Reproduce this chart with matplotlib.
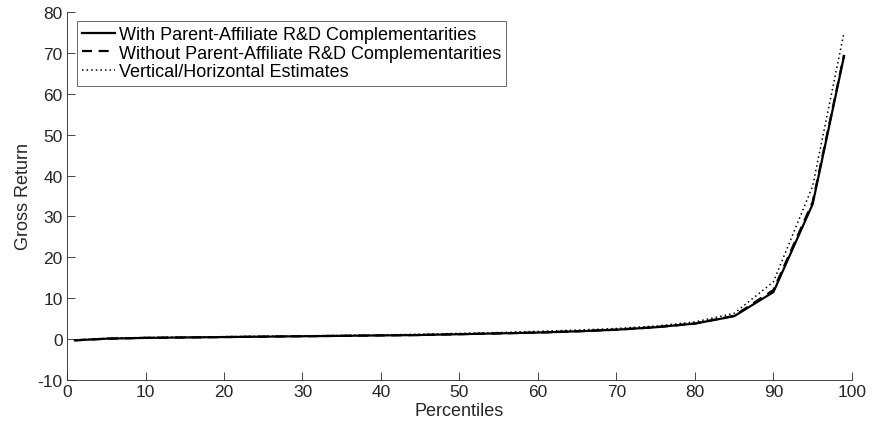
import matplotlib.pyplot as plt

# percentiles and gross returns for each specification
percentiles = [1, 5, 10, 15, 20, 25, 30, 35, 40, 45, 50, 55, 60, 65, 70, 75, 80, 85, 90, 95, 99]
with_compl = [-0.3, 0.1, 0.3, 0.4, 0.5, 0.6, 0.7, 0.8, 0.9, 1.0, 1.2, 1.4, 1.6, 1.9, 2.3, 2.9, 3.8, 5.6, 11.5, 33.0, 69.2]
without_compl = [-0.3, 0.1, 0.3, 0.4, 0.5, 0.6, 0.7, 0.8, 0.9, 1.0, 1.2, 1.4, 1.6, 1.9, 2.3, 2.9, 3.8, 5.7, 12.0, 33.5, 69.5]
vert_horiz = [-0.2, 0.2, 0.4, 0.5, 0.6, 0.7, 0.8, 0.9, 1.0, 1.2, 1.4, 1.6, 1.9, 2.2, 2.6, 3.2, 4.2, 6.3, 14.0, 37.4, 75.0]

plt.rcParams['font.family'] = ['Liberation Sans', 'DejaVu Sans']
plt.rcParams['axes.unicode_minus'] = False

fig = plt.figure(figsize=(8.74, 4.31), dpi=100)
ax = fig.add_axes([0.0767, 0.116, 0.898, 0.854])

ax.plot(percentiles, with_compl, color='black', linestyle='-', linewidth=1.6,
        label='With Parent-Affiliate R&D Complementarities')
ax.plot(percentiles, without_compl, color='black', linestyle=(0, (4.5, 3)), linewidth=1.6,
        label='Without Parent-Affiliate R&D Complementarities')
ax.plot(percentiles, vert_horiz, color='black', linestyle=(0, (1, 2)), linewidth=1.1,
        label='Vertical/Horizontal Estimates')

ax.set_xlim(0, 100)
ax.set_ylim(-10, 80)
ax.set_xticks(range(0, 101, 10))
ax.set_yticks(range(-10, 81, 10))
ax.set_xlabel('Percentiles', fontsize=13, color='#262626', labelpad=2)
ax.set_ylabel('Gross Return', fontsize=13, color='#262626', labelpad=4)

for side in ['top', 'right']:
    ax.spines[side].set_visible(False)
for side in ['left', 'bottom']:
    ax.spines[side].set_color('#262626')
    ax.spines[side].set_linewidth(0.6)
ax.tick_params(direction='in', length=6, width=0.6, color='#262626',
               labelsize=12.5, labelcolor='#262626', pad=3)

leg = ax.legend(loc='upper left', bbox_to_anchor=(0.0127, 0.9755), fontsize=13,
                frameon=True, fancybox=False, handlelength=1.8, handletextpad=0.2,
                borderpad=0.3, labelspacing=0.08, borderaxespad=0)
leg.get_frame().set_edgecolor('#262626')
leg.get_frame().set_linewidth(0.6)

fig.savefig('out.png', dpi=100)
